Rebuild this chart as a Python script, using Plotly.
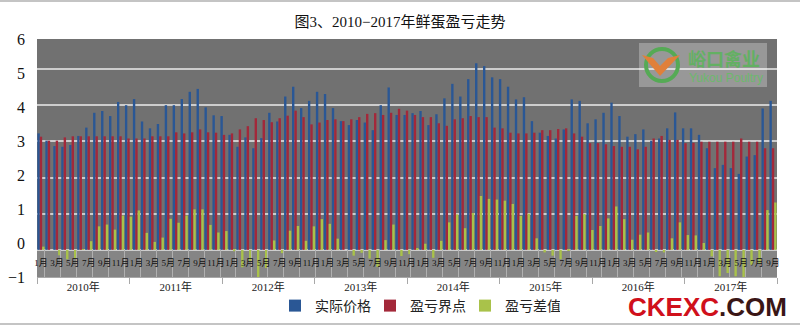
import plotly.graph_objects as go

# ---------------- data ----------------
years = ['2010年', '2011年', '2012年', '2013年', '2014年', '2015年', '2016年', '2017年']
month_names = ['1月', '2月', '3月', '4月', '5月', '6月', '7月', '8月', '9月', '10月', '11月', '12月']
months_in_last_year = 9
series_names = ['实际价格', '盈亏界点', '盈亏差值']
y_ticks = [-1, 0, 1, 2, 3, 4, 5, 6]
y_tick_text = ['−1', '0', '1', '2', '3', '4', '5', '6']
title_text = '图3、2010−2017年鲜蛋盈亏走势'

price = [3.22, 3.02, 2.87, 2.85, 2.90, 3.15, 3.38, 3.79, 3.84, 3.70, 4.09, 4.00,
         4.17, 3.55, 3.36, 3.48, 4.00, 4.00, 4.17, 4.37, 4.45, 3.94, 3.72, 3.70,
         3.18, 2.85, 3.11, 2.81, 3.09, 3.79, 3.55, 4.24, 4.51, 3.92, 4.12, 4.37,
         4.31, 3.92, 3.56, 3.45, 3.59, 3.52, 3.31, 4.00, 4.49, 3.73, 3.73, 3.78,
         3.84, 3.45, 3.75, 4.19, 4.59, 4.24, 4.72, 5.16, 5.08, 4.77, 4.72, 4.51,
         4.16, 4.22, 3.56, 3.24, 3.15, 3.08, 3.33, 4.16, 4.12, 3.50, 3.61, 3.79,
         4.07, 3.70, 3.13, 3.20, 3.33, 3.02, 3.08, 3.36, 3.80, 3.36, 3.36, 3.18,
         2.81, 2.26, 2.35, 2.26, 2.10, 2.58, 2.62, 3.91, 4.12]

breakeven = [3.13, 3.02, 3.02, 3.11, 3.14, 3.14, 3.14, 3.14, 3.14, 3.14, 3.14, 3.08,
             3.08, 3.08, 3.14, 3.14, 3.14, 3.25, 3.22, 3.25, 3.33, 3.25, 3.24, 3.18,
             3.22, 3.33, 3.42, 3.64, 3.59, 3.53, 3.64, 3.71, 3.85, 3.67, 3.47, 3.52,
             3.59, 3.61, 3.56, 3.61, 3.67, 3.76, 3.78, 3.73, 3.79, 3.90, 3.85, 3.73,
             3.67, 3.67, 3.50, 3.43, 3.61, 3.64, 3.70, 3.67, 3.67, 3.38, 3.36, 3.24,
             3.22, 3.22, 3.24, 3.31, 3.31, 3.34, 3.36, 3.22, 3.13, 2.95, 2.95, 2.92,
             2.87, 2.85, 2.85, 2.78, 2.85, 3.08, 3.15, 3.04, 3.04, 2.95, 2.96, 2.99,
             2.99, 2.99, 2.99, 2.99, 3.08, 2.99, 2.99, 2.81, 2.81]

diff = [0.09, 0.00, -0.15, -0.26, -0.24, 0.01, 0.24, 0.65, 0.70, 0.56, 0.95, 0.92,
        1.09, 0.47, 0.22, 0.34, 0.86, 0.75, 0.95, 1.12, 1.12, 0.69, 0.48, 0.52,
        -0.04, -0.48, -0.31, -0.83, -0.50, 0.26, -0.09, 0.53, 0.66, 0.25, 0.65, 0.85,
        0.72, 0.31, 0.00, -0.16, -0.08, -0.24, -0.47, 0.27, 0.70, -0.17, -0.12, 0.05,
        0.17, -0.22, 0.25, 0.76, 0.98, 0.60, 1.02, 1.49, 1.41, 1.39, 1.36, 1.27,
        0.94, 1.00, 0.32, -0.07, -0.16, -0.26, -0.03, 0.94, 0.99, 0.55, 0.66, 0.87,
        1.20, 0.85, 0.28, 0.42, 0.48, -0.06, -0.07, 0.32, 0.76, 0.41, 0.40, 0.19,
        -0.18, -0.73, -0.64, -0.73, -0.98, -0.41, -0.37, 1.10, 1.31]

# ---------------- derived labels ----------------
month_labels = []
for yi, yname in enumerate(years):
    cnt = 12 if yi < len(years) - 1 else months_in_last_year
    month_labels += month_names[:cnt]
n = len(price)
xs = list(range(n))

# ---------------- geometry / style ----------------
W, H = 800, 326
L, R, T, B = 37, 23, 39, 49
YLO, YHI = -0.75, 5.83


def px(xp):
    return (xp - L) / (W - L - R)


def py(yp):
    return (H - B - yp) / (H - T - B)


zero_pos = (0 - YLO) / (YHI - YLO)
SERIF = 'Liberation Serif, Noto Sans CJK SC, serif'
colors = ['#2a5795', '#a3283a', '#a9c24a']

fig = go.Figure()
for name, vals, c in zip(series_names, [price, breakeven, diff], colors):
    fig.add_trace(go.Bar(x=xs, y=vals, name=name,
                         marker=dict(color=c, line=dict(width=0)),
                         hoverinfo='skip'))
# empty helper traces so the overlay axes are drawn
fig.add_trace(go.Scatter(x=[], y=[], xaxis='x2', yaxis='y2', showlegend=False, hoverinfo='skip'))
fig.add_trace(go.Scatter(x=[], y=[], xaxis='x3', yaxis='y', showlegend=False, hoverinfo='skip'))

xr = [-0.5, n - 0.5]
fig.update_layout(
    template='none',
    width=W, height=H,
    margin=dict(l=L, r=R, t=T, b=B, autoexpand=False, pad=0),
    paper_bgcolor='white', plot_bgcolor='#717171',
    barmode='group', bargap=0.1, bargroupgap=0.0,
    title=dict(text=title_text, x=0.5, xref='container', xanchor='center',
               y=1 - 22 / H, yref='container', yanchor='middle',
               font=dict(family=SERIF, size=15, color='#111111')),
    legend=dict(orientation='h', x=px(275), xanchor='left', y=py(306), yanchor='middle',
                entrywidth=50, entrywidthmode='pixels',
                font=dict(family=SERIF, size=14, color='#222222'),
                bgcolor='rgba(0,0,0,0)'),
    xaxis=dict(range=xr, showticklabels=False, showgrid=False, zeroline=False, automargin=False,
               ticks='', showline=False,
               minor=dict(tickmode='array', tickvals=[i + 0.5 for i in range(0, n - 1, 2)],
                          ticks='inside', ticklen=27, tickcolor='#b0b0b0', tickwidth=1,
                          showgrid=False)),
    xaxis2=dict(overlaying='x', anchor='free', position=zero_pos, side='bottom', range=xr,
                tickmode='array', tickvals=[i for i in xs if i % 2 == 0],
                ticktext=[month_labels[i] for i in xs if i % 2 == 0], automargin=False,
                ticks='', showline=False, showgrid=False, zeroline=False, tickangle=0,
                ticklabelstandoff=6,
                tickfont=dict(family=SERIF, size=9, color='#111111')),
    xaxis3=dict(overlaying='x', anchor='y', side='bottom', range=[0, len(years)],
                tickmode='array', tickvals=[k + 0.5 for k in range(len(years))], ticktext=years,
                ticks='', showline=True, linecolor='#a8a8a8', linewidth=1, automargin=False,
                showgrid=False, zeroline=False, tickangle=0, ticklabelstandoff=0,
                tickfont=dict(family=SERIF, size=11, color='#222222'),
                minor=dict(tickmode='array', tickvals=list(range(len(years) + 1)),
                           ticks='outside', ticklen=6, tickcolor='#a8a8a8', tickwidth=1)),
    yaxis=dict(range=[YLO, YHI], tick0=0, dtick=1, showgrid=True, gridcolor='#cdcdcd',
               gridwidth=1.5, showticklabels=False, zeroline=False, ticks='', automargin=False),
    yaxis2=dict(overlaying='y', side='left', range=[-1, 6], tickmode='array',
                tickvals=y_ticks, ticktext=y_tick_text, showgrid=False, zeroline=False,
                ticks='', ticklabelstandoff=11, automargin=False,
                tickfont=dict(family=SERIF, size=16, color='#111111')),
)

# category-label band below zero
fig.add_shape(type='rect', xref='paper', yref='y', x0=0, x1=1, y0=YLO, y1=0,
              fillcolor='#858585', line=dict(width=0), layer='below')

# watermark box + logo
fig.add_shape(type='rect', xref='paper', yref='paper', x0=px(639), x1=px(767), y0=py(87), y1=py(43),
              fillcolor='rgba(255,255,255,0.28)', line=dict(width=0), layer='above')
fig.add_shape(type='circle', xref='paper', yref='paper', x0=px(646), x1=px(678), y0=py(81), y1=py(49),
              line=dict(color='#55aa55', width=4), layer='above')
vpath = 'M {} {} L {} {} L {} {} L {} {} L {} {} L {} {} Z'.format(
    px(642), py(55), px(660), py(76), px(680), py(55), px(668), py(58), px(660), py(66), px(653), py(58))
fig.add_shape(type='path', xref='paper', yref='paper', path=vpath,
              fillcolor='#e0803a', line=dict(width=0), layer='above')
fig.add_annotation(xref='paper', yref='paper', x=px(724), y=py(58), xanchor='center', yanchor='middle',
                   text='<b>峪口禽业</b>', showarrow=False,
                   font=dict(family='Noto Sans CJK SC', size=18, color='#63b063'))
fig.add_annotation(xref='paper', yref='paper', x=px(726), y=py(78), xanchor='center', yanchor='middle',
                   text='Yukou Poultry', showarrow=False,
                   font=dict(family='Liberation Sans', size=12, color='#6cb86c'))

# site mark
fig.add_annotation(xref='paper', yref='paper', x=px(707), y=py(307), xanchor='center', yanchor='middle',
                   text="<b><span style='color:#d0101b'>CKEXC</span><span style='color:#3a1616'>.COM</span></b>",
                   showarrow=False, font=dict(family='Liberation Sans', size=26))

# thin frame lines top & bottom
for yl in (1, 324):
    fig.add_shape(type='line', xref='paper', yref='paper', x0=px(0), x1=px(800), y0=py(yl), y1=py(yl),
                  line=dict(color='#c4c4c4', width=2), layer='above')

fig.write_html('out.html')
